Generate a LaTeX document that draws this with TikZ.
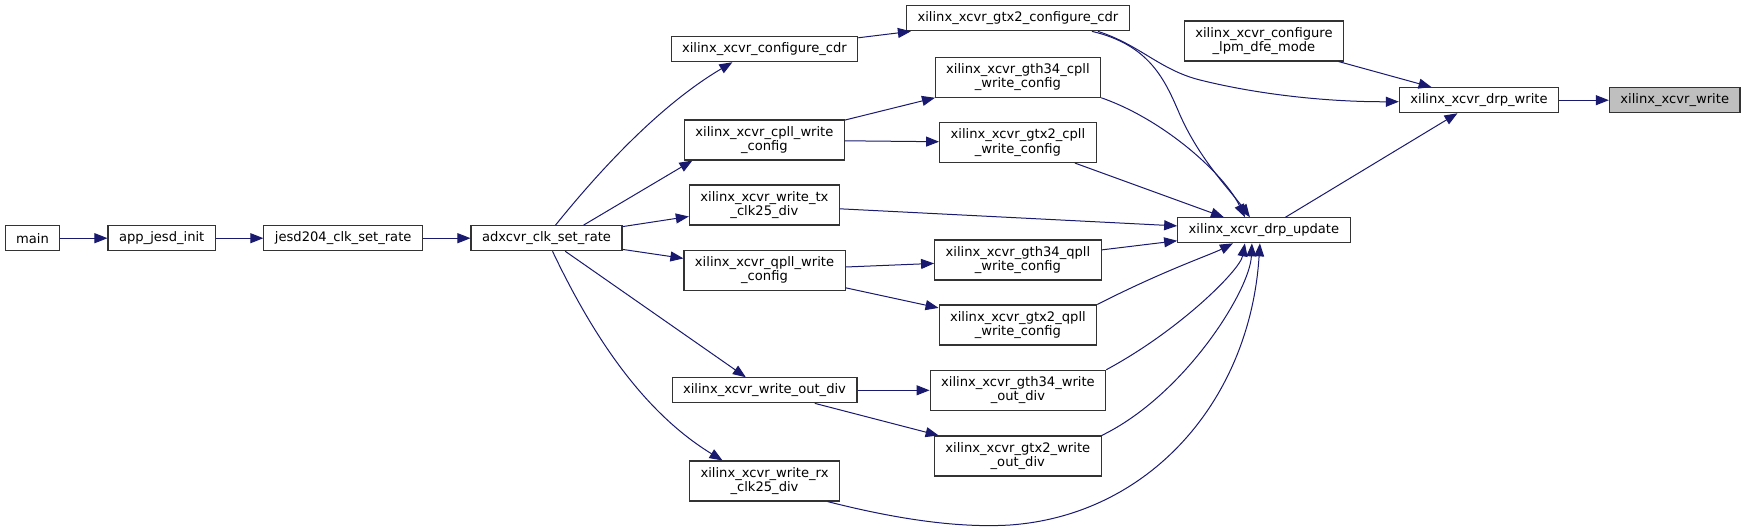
\documentclass[tikz,border=0pt]{standalone}
\usepackage{fontspec}
\setmainfont{DejaVu Sans}
\usetikzlibrary{arrows.meta}
\definecolor{edgeblue}{RGB}{25,25,112}

\begin{document}
\begin{tikzpicture}[
    x=1pt, y=-1pt,
    fn/.style={rectangle, draw=black!80, line width=1.1, fill=white, inner xsep=11, inner ysep=0, minimum height=25, align=center, font=\fontsize{13.1}{14.5}\selectfont},
    fn2/.style={fn, minimum height=40},
    edge/.style={-{Triangle[length=13,width=10]}, draw=edgeblue, line width=1}
]
\useasboundingbox (0,0) rectangle (1747,530);

% Callers of adxcvr_clk_set_rate
\node[fn] (main) at (32.5,238.2) {main};
\node[fn] (appinit) at (161.7,238.2) {app\_jesd\_init};
\node[fn] (jesdrate) at (343.2,238.2) {jesd204\_clk\_set\_rate};
\node[fn] (adxrate) at (546.5,238.2) {adxcvr\_clk\_set\_rate};

% First xcvr column
\node[fn] (cfgcdr) at (764.4,49.2) {xilinx\_xcvr\_configure\_cdr};
\node[fn2] (cpll) at (764.4,140) {xilinx\_xcvr\_cpll\_write\\\_config};
\node[fn2] (txdiv) at (764.4,205) {xilinx\_xcvr\_write\_tx\\\_clk25\_div};
\node[fn2] (qpll) at (764.5,270.3) {xilinx\_xcvr\_qpll\_write\\\_config};
\node[fn] (outdiv) at (764.5,390.3) {xilinx\_xcvr\_write\_out\_div};
\node[fn2] (rxdiv) at (764.5,481) {xilinx\_xcvr\_write\_rx\\\_clk25\_div};

% Second xcvr column
\node[fn] (gtxcdr) at (1017.9,18.3) {xilinx\_xcvr\_gtx2\_configure\_cdr};
\node[fn2] (gthcpll) at (1017.9,77.2) {xilinx\_xcvr\_gth34\_cpll\\\_write\_config};
\node[fn2] (gtxcpll) at (1017.9,142.5) {xilinx\_xcvr\_gtx2\_cpll\\\_write\_config};
\node[fn2] (gthqpll) at (1017.9,260) {xilinx\_xcvr\_gth34\_qpll\\\_write\_config};
\node[fn2] (gtxqpll) at (1017.9,325) {xilinx\_xcvr\_gtx2\_qpll\\\_write\_config};
\node[fn2] (gthout) at (1017.9,390.3) {xilinx\_xcvr\_gth34\_write\\\_out\_div};
\node[fn2] (gtxout) at (1017.8,456) {xilinx\_xcvr\_gtx2\_write\\\_out\_div};

% DRP access
\node[fn] (drpupd) at (1263.9,230.3) {xilinx\_xcvr\_drp\_update};
\node[fn2] (lpmdfe) at (1263.9,41) {xilinx\_xcvr\_configure\\\_lpm\_dfe\_mode};
\node[fn] (drpwr) at (1479,100.2) {xilinx\_xcvr\_drp\_write};
\node[fn, fill=gray!50] (xcvrwr) at (1674.7,100.2) {xilinx\_xcvr\_write};

% call chain from main
\draw[edge] (main) -- (appinit);
\draw[edge] (appinit) -- (jesdrate);
\draw[edge] (jesdrate) -- (adxrate);

% adxcvr_clk_set_rate fan-out
\draw[edge] ([xshift=9]adxrate.north) .. controls (600,170) and (660,105) .. ([xshift=-32]cfgcdr.south);
\draw[edge] ([xshift=37]adxrate.north) -- ([xshift=-72]cpll.south);
\draw[edge] (adxrate) -- (txdiv);
\draw[edge] (adxrate) -- (qpll);
\draw[edge] (adxrate) -- (outdiv);
\draw[edge] ([xshift=6]adxrate.south) .. controls (590,330) and (640,410) .. ([xshift=-42]rxdiv.north);

% second level
\draw[edge] (cfgcdr) -- (gtxcdr);
\draw[edge] (cpll) -- (gthcpll);
\draw[edge] (cpll) -- (gtxcpll);
\draw[edge] (qpll) -- (gthqpll);
\draw[edge] (qpll) -- (gtxqpll);
\draw[edge] (outdiv) -- (gthout);
\draw[edge] (outdiv) -- (gtxout);

% into drp_update
\draw[edge] ([xshift=74]gtxcdr.south) .. controls (1150,45) and (1165,80) .. (1180,115) .. controls (1200,160) and (1230,190) .. ([xshift=-14]drpupd.north);
\draw[edge] (gthcpll.south east) .. controls (1165,120) and (1225,175) .. ([xshift=-19]drpupd.north);
\draw[edge] ([xshift=57]gtxcpll.south) -- ([xshift=-40]drpupd.north);
\draw[edge] (txdiv) -- (drpupd);
\draw[edge] (gthqpll) -- (drpupd);
\draw[edge] (gtxqpll.north east) .. controls (1165,270) and (1210,255) .. ([xshift=-31]drpupd.south);
\draw[edge] (gthout.north east) .. controls (1180,330) and (1240,270) .. ([xshift=-19]drpupd.south);
\draw[edge] (gtxout.north east) .. controls (1185,395) and (1250,290) .. ([xshift=-12]drpupd.south);
\draw[edge] ([xshift=63]rxdiv.south) .. controls (900,520) and (960,528) .. (1010,525) .. controls (1150,515) and (1250,400) .. ([xshift=-4]drpupd.south);

% into drp_write
\draw[edge] ([xshift=80]gtxcdr.south) .. controls (1140,45) and (1160,70) .. (1200,80) .. controls (1260,95) and (1330,102) .. ([yshift=-1.5]drpwr.west);
\draw[edge] (drpupd) -- (drpwr);
\draw[edge] (lpmdfe) -- (drpwr);
\draw[edge] (drpwr) -- (xcvrwr);

\end{tikzpicture}
\end{document}
